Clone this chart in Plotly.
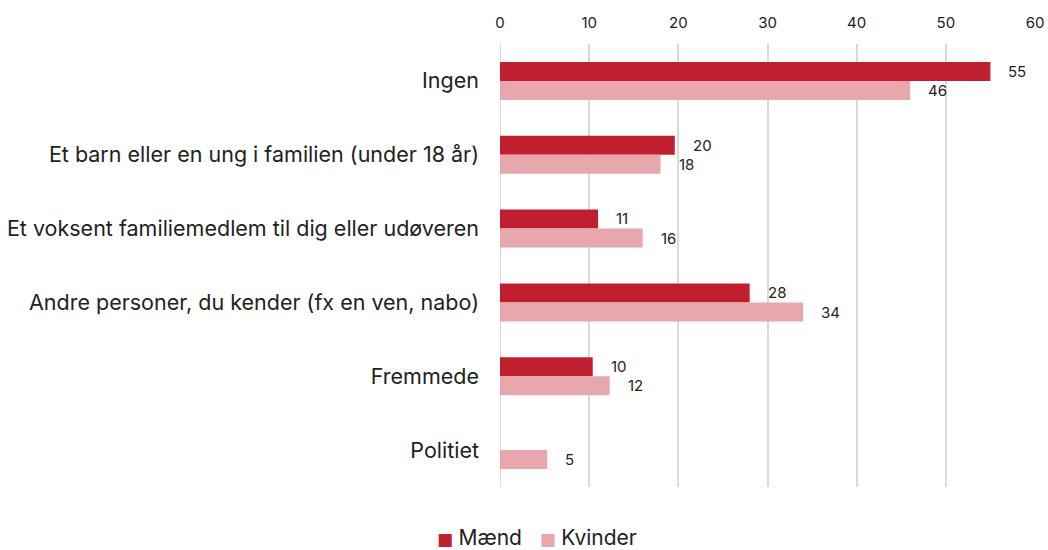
import plotly.graph_objects as go

categories = ["Ingen", "Et barn eller en ung i familien (under 18 år)",
              "Et voksent familiemedlem til dig eller udøveren",
              "Andre personer, du kender (fx en ven, nabo)", "Fremmede", "Politiet"]
maend = [55, 19.6, 11, 28, 10.4, None]
kvinder = [46, 18, 16, 34, 12.3, 5.3]
x_ticks = [0, 10, 20, 30, 40, 50, 60]
series_names = ["Mænd", "Kvinder"]

c_m = "#C01F30"
c_k = "#E8A7AD"
FONT = "Inter"

fig = go.Figure()
fig.add_trace(go.Bar(y=categories, x=maend, name=series_names[0], orientation="h",
                     marker=dict(color=c_m, line=dict(width=0))))
fig.add_trace(go.Bar(y=categories, x=kvinder, name=series_names[1], orientation="h",
                     marker=dict(color=c_k, line=dict(width=0))))

annotations = []
for i, v in enumerate(maend):
    if v is not None:
        annotations.append(dict(x=v, y=i - 0.13, xref="x", yref="y", text=f"{v:.0f}",
                                showarrow=False, xanchor="left", xshift=16,
                                font=dict(size=15, color="#222222", family=FONT)))
for i, v in enumerate(kvinder):
    if v is not None:
        annotations.append(dict(x=v, y=i + 0.13, xref="x", yref="y", text=f"{v:.0f}",
                                showarrow=False, xanchor="left", xshift=16,
                                font=dict(size=15, color="#222222", family=FONT)))

# legend drawn as text with coloured squares
legend_text = (f'<span style="color:{c_m};font-family:DejaVu Sans;font-size:17px">■ </span>'
               f'{series_names[0]}   '
               f'<span style="color:{c_k};font-family:DejaVu Sans;font-size:17px">■ </span>'
               f'{series_names[1]}')
annotations.append(dict(x=0.069, y=0.0, xref="paper", yref="paper", yshift=-50,
                        text=legend_text, showarrow=False, xanchor="center",
                        yanchor="middle", font=dict(size=21, color="#222222", family=FONT)))

fig.update_layout(
    width=1048, height=550,
    margin=dict(l=500, r=13, t=44, b=63, autoexpand=False),
    paper_bgcolor="white", plot_bgcolor="white",
    barmode="group", bargap=0.485, bargroupgap=0,
    font=dict(family=FONT, color="#222222"),
    annotations=annotations,
    showlegend=False,
)
fig.update_xaxes(side="top", range=[0, 60], tickvals=x_ticks, showgrid=True,
                 gridcolor="#D9D9D9", gridwidth=2, zeroline=False, showline=False,
                 ticks="", tickfont=dict(size=15), ticklabelstandoff=12,
                 automargin=False)
fig.update_yaxes(type="category", autorange="reversed", ticks="", showline=False,
                 tickfont=dict(size=21.5), ticklabelstandoff=20, showgrid=False,
                 automargin=False)
fig.add_vline(x=0, line=dict(color="#D9D9D9", width=2), layer="below")

fig.write_html("out.html", config={"displayModeBar": False},
               post_script="document.body.style.margin='0';document.body.style.overflow='hidden';")
